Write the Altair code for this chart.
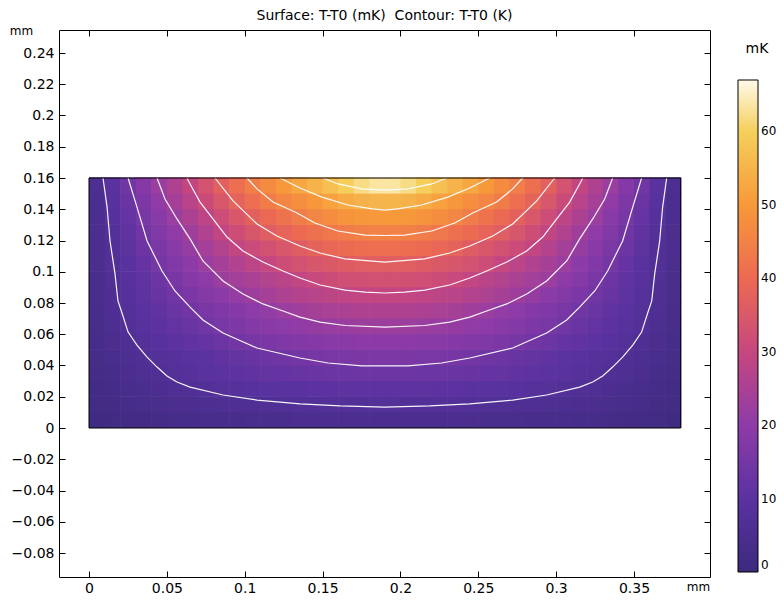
import altair as alt
import pandas as pd

TITLE = "Surface: T-T0 (mK)\u00a0 Contour: T-T0 (K)"

# cell centres of the surface grid (mm)
X_CELLS = [0.005, 0.015, 0.025, 0.035, 0.045, 0.055, 0.065, 0.075, 0.085, 0.095,
           0.105, 0.115, 0.125, 0.135, 0.145, 0.155, 0.165, 0.175, 0.185, 0.195,
           0.205, 0.215, 0.225, 0.235, 0.245, 0.255, 0.265, 0.275, 0.285, 0.295,
           0.305, 0.315, 0.325, 0.335, 0.345, 0.355, 0.365, 0.375]
Y_CELLS = [0.005, 0.015, 0.025, 0.035, 0.045, 0.055, 0.065, 0.075,
           0.085, 0.095, 0.105, 0.115, 0.125, 0.135, 0.145, 0.155]
CELL_HALF = 0.005
OVERLAP = 0.0004

# surface values T-T0 (mK), one row per Y_CELLS entry (bottom to top)
T_ROWS = [
    [1.3, 1.8, 2.2, 2.6, 2.95, 3.3, 3.6, 3.85, 4.1, 4.3, 4.5, 4.65, 4.8, 4.9, 5.0, 5.05, 5.1, 5.14, 5.16,
     5.16, 5.14, 5.1, 5.05, 5.0, 4.9, 4.8, 4.65, 4.5, 4.3, 4.1, 3.85, 3.6, 3.3, 2.95, 2.6, 2.2, 1.8, 1.3],
    [2.0, 2.7, 3.3, 3.9, 4.4, 4.9, 5.3, 5.7, 6.0, 6.35, 6.65, 6.9, 7.15, 7.35, 7.5, 7.65, 7.75, 7.83, 7.88,
     7.88, 7.83, 7.75, 7.65, 7.5, 7.35, 7.15, 6.9, 6.65, 6.35, 6.0, 5.7, 5.3, 4.9, 4.4, 3.9, 3.3, 2.7, 2.0],
    [2.3, 3.1, 3.9, 4.7, 5.5, 6.25, 7.05, 7.7, 8.2, 8.67, 9.08, 9.44, 9.76, 10.03, 10.26, 10.44, 10.58, 10.67, 10.71,
     10.71, 10.67, 10.58, 10.44, 10.26, 10.03, 9.76, 9.44, 9.08, 8.67, 8.2, 7.7, 7.05, 6.25, 5.5, 4.7, 3.9, 3.1, 2.3],
    [2.74, 3.83, 4.92, 6.0, 7.09, 8.0, 8.8, 9.53, 10.2, 10.8, 11.36, 11.84, 12.27, 12.63, 12.94, 13.18, 13.36, 13.48, 13.54,
     13.54, 13.48, 13.36, 13.18, 12.94, 12.63, 12.27, 11.84, 11.36, 10.8, 10.2, 9.53, 8.8, 8.0, 7.09, 6.0, 4.92, 3.83, 2.74],
    [3.15, 4.5, 5.8, 7.1, 8.0, 8.8, 9.5, 10.3, 11.07, 11.84, 12.6, 13.4, 14.1, 14.9, 15.4, 15.83, 16.14, 16.34, 16.45,
     16.45, 16.34, 16.14, 15.83, 15.4, 14.9, 14.1, 13.4, 12.6, 11.84, 11.07, 10.3, 9.5, 8.8, 8.0, 7.1, 5.8, 4.5, 3.15],
    [3.6, 5.2, 6.7, 8.0, 9.1, 10.2, 11.2, 12.3, 13.4, 14.4, 15.44, 16.33, 17.1, 17.77, 18.3, 18.77, 19.1, 19.33, 19.44,
     19.44, 19.33, 19.1, 18.77, 18.3, 17.77, 17.1, 16.33, 15.44, 14.4, 13.4, 12.3, 11.2, 10.2, 9.1, 8.0, 6.7, 5.2, 3.6],
    [4.0, 5.8, 7.6, 8.9, 10.25, 11.6, 12.9, 14.3, 15.6, 16.85, 17.96, 18.96, 19.83, 20.58, 21.2, 21.7, 22.07, 22.32, 22.44,
     22.44, 22.32, 22.07, 21.7, 21.2, 20.58, 19.83, 18.96, 17.96, 16.85, 15.6, 14.3, 12.9, 11.6, 10.25, 8.9, 7.6, 5.8, 4.0],
    [4.3, 6.3, 8.1, 9.7, 11.3, 12.9, 14.5, 15.8, 17.1, 18.3, 19.6, 20.8, 22.1, 23.2, 24.07, 24.8, 25.3, 25.67, 25.85,
     25.85, 25.67, 25.3, 24.8, 24.07, 23.2, 22.1, 20.8, 19.6, 18.3, 17.1, 15.8, 14.5, 12.9, 11.3, 9.7, 8.1, 6.3, 4.3],
    [4.6, 6.75, 8.7, 10.6, 12.5, 14.4, 16.1, 17.8, 19.5, 21.2, 22.86, 24.28, 25.5, 26.6, 27.5, 28.2, 28.7, 29.08, 29.26,
     29.26, 29.08, 28.7, 28.2, 27.5, 26.6, 25.5, 24.28, 22.86, 21.2, 19.5, 17.8, 16.1, 14.4, 12.5, 10.6, 8.7, 6.75, 4.6],
    [4.7, 7.0, 9.2, 11.4, 13.7, 15.9, 18.0, 20.2, 22.4, 23.75, 25.1, 26.5, 27.9, 29.3, 30.55, 31.5, 32.24, 32.7, 32.96,
     32.96, 32.7, 32.24, 31.5, 30.55, 29.3, 27.9, 26.5, 25.1, 23.75, 22.4, 20.2, 18.0, 15.9, 13.7, 11.4, 9.2, 7.0, 4.7],
    [4.9, 7.25, 9.8, 12.4, 15.0, 17.4, 19.9, 22.3, 24.2, 26.1, 28.0, 29.9, 31.6, 33.05, 34.3, 35.25, 35.99, 36.5, 36.7,
     36.7, 36.5, 35.99, 35.25, 34.3, 33.05, 31.6, 29.9, 28.0, 26.1, 24.2, 22.3, 19.9, 17.4, 15.0, 12.4, 9.8, 7.25, 4.9],
    [5.1, 7.6, 10.6, 13.5, 16.2, 18.8, 21.4, 24.0, 26.6, 29.3, 31.2, 32.9, 34.7, 36.4, 38.0, 39.2, 40.1, 40.65, 40.9,
     40.9, 40.65, 40.1, 39.2, 38.0, 36.4, 34.7, 32.9, 31.2, 29.3, 26.6, 24.0, 21.4, 18.8, 16.2, 13.5, 10.6, 7.6, 5.1],
    [5.2, 8.1, 11.4, 14.65, 17.5, 20.3, 23.2, 26.2, 29.3, 31.8, 34.3, 36.7, 38.3, 39.9, 41.4, 42.7, 43.8, 44.6, 45.2,
     45.2, 44.6, 43.8, 42.7, 41.4, 39.9, 38.3, 36.7, 34.3, 31.8, 29.3, 26.2, 23.2, 20.3, 17.5, 14.65, 11.4, 8.1, 5.2],
    [5.3, 8.5, 12.1, 15.6, 18.8, 22.1, 25.3, 28.6, 31.7, 34.7, 37.5, 39.7, 41.8, 43.9, 45.9, 47.5, 48.7, 49.5, 49.9,
     49.9, 49.5, 48.7, 47.5, 45.9, 43.9, 41.8, 39.7, 37.5, 34.7, 31.7, 28.6, 25.3, 22.1, 18.8, 15.6, 12.1, 8.5, 5.3],
    [5.4, 9.0, 13.0, 16.8, 20.6, 24.2, 27.6, 31.1, 34.5, 37.9, 40.8, 43.8, 46.0, 47.8, 49.6, 51.5, 53.3, 54.6, 55.2,
     55.2, 54.6, 53.3, 51.5, 49.6, 47.8, 46.0, 43.8, 40.8, 37.9, 34.5, 31.1, 27.6, 24.2, 20.6, 16.8, 13.0, 9.0, 5.4],
    [5.6, 9.8, 14.2, 18.2, 22.1, 25.8, 29.5, 33.4, 37.3, 40.8, 44.3, 47.1, 49.9, 52.6, 54.8, 57.0, 59.8, 62.0, 63.5,
     63.5, 62.0, 59.8, 57.0, 54.8, 52.6, 49.9, 47.1, 44.3, 40.8, 37.3, 33.4, 29.5, 25.8, 22.1, 18.2, 14.2, 9.8, 5.6],
]

# contour lines (mm)
C1_X = [0.0090, 0.0116, 0.0135, 0.0167, 0.0186, 0.0212, 0.0251, 0.0308, 0.0373, 0.0437, 0.0501, 0.0565, 0.0649,
        0.0861, 0.1079, 0.1355, 0.1612, 0.1900, 0.2188, 0.2445, 0.2721, 0.2939, 0.3151, 0.3235, 0.3299, 0.3363,
        0.3427, 0.3492, 0.3549, 0.3588, 0.3614, 0.3633, 0.3665, 0.3684, 0.3710]
C1_Y = [0.1600, 0.1414, 0.1197, 0.0986, 0.0813, 0.0736, 0.0614, 0.0531, 0.0454, 0.0390, 0.0333, 0.0294, 0.0262,
        0.0211, 0.0179, 0.0154, 0.0141, 0.0134, 0.0141, 0.0154, 0.0179, 0.0211, 0.0262, 0.0294, 0.0333, 0.0390,
        0.0454, 0.0531, 0.0614, 0.0736, 0.0813, 0.0986, 0.1197, 0.1414, 0.1600]
C2_X = [0.0251, 0.0308, 0.0373, 0.0469, 0.0552, 0.0649, 0.0732, 0.0861, 0.1079, 0.1355, 0.1535, 0.1753, 0.1900,
        0.2047, 0.2265, 0.2445, 0.2721, 0.2939, 0.3068, 0.3151, 0.3248, 0.3331, 0.3427, 0.3492, 0.3549]
C2_Y = [0.1600, 0.1414, 0.1197, 0.1005, 0.0877, 0.0774, 0.0691, 0.0608, 0.0512, 0.0448, 0.0416, 0.0397, 0.0397,
        0.0397, 0.0416, 0.0448, 0.0512, 0.0608, 0.0691, 0.0774, 0.0877, 0.1005, 0.1197, 0.1414, 0.1600]
C3_X = [0.0437, 0.0488, 0.0565, 0.0649, 0.0732, 0.0861, 0.0989, 0.1117, 0.1246, 0.1355, 0.1484, 0.1644, 0.1900,
        0.2156, 0.2316, 0.2445, 0.2554, 0.2683, 0.2811, 0.2939, 0.3068, 0.3151, 0.3235, 0.3312, 0.3363]
C3_Y = [0.1600, 0.1466, 0.1338, 0.1210, 0.1069, 0.0941, 0.0858, 0.0794, 0.0749, 0.0710, 0.0678, 0.0656, 0.0646,
        0.0656, 0.0678, 0.0710, 0.0749, 0.0794, 0.0858, 0.0941, 0.1069, 0.1210, 0.1338, 0.1466, 0.1600]
C4_X = [0.0629, 0.0649, 0.0713, 0.0796, 0.0886, 0.0989, 0.1117, 0.1246, 0.1355, 0.1484, 0.1644, 0.1773, 0.1900,
        0.2027, 0.2156, 0.2316, 0.2445, 0.2554, 0.2683, 0.2811, 0.2914, 0.3004, 0.3087, 0.3151, 0.3171]
C4_Y = [0.1600, 0.1562, 0.1446, 0.1338, 0.1222, 0.1133, 0.1062, 0.1005, 0.0960, 0.0915, 0.0883, 0.0870, 0.0864,
        0.0870, 0.0883, 0.0915, 0.0960, 0.1005, 0.1062, 0.1133, 0.1222, 0.1338, 0.1446, 0.1562, 0.1600]
C5_X = [0.0809, 0.0925, 0.1079, 0.1207, 0.1355, 0.1484, 0.1644, 0.1900,
        0.2156, 0.2316, 0.2445, 0.2593, 0.2721, 0.2875, 0.2991]
C5_Y = [0.1600, 0.1453, 0.1306, 0.1229, 0.1165, 0.1120, 0.1082, 0.1062,
        0.1082, 0.1120, 0.1165, 0.1229, 0.1306, 0.1453, 0.1600]
C6_X = [0.1015, 0.1079, 0.1182, 0.1336, 0.1451, 0.1599, 0.1773, 0.1900,
        0.2027, 0.2201, 0.2349, 0.2464, 0.2618, 0.2721, 0.2785]
C6_Y = [0.1600, 0.1530, 0.1446, 0.1376, 0.1312, 0.1261, 0.1235, 0.1232,
        0.1235, 0.1261, 0.1312, 0.1376, 0.1446, 0.1530, 0.1600]
C7_X = [0.1227, 0.1355, 0.1496, 0.1663, 0.1818, 0.1900, 0.1982, 0.2137, 0.2304, 0.2445, 0.2573]
C7_Y = [0.1600, 0.1536, 0.1478, 0.1427, 0.1402, 0.1395, 0.1402, 0.1427, 0.1478, 0.1536, 0.1600]
C8_X = [0.1503, 0.1599, 0.1753, 0.1900, 0.2047, 0.2201, 0.2297]
C8_Y = [0.1600, 0.1562, 0.1530, 0.1523, 0.1530, 0.1562, 0.1600]
CONTOURS = [(C1_X, C1_Y), (C2_X, C2_Y), (C3_X, C3_Y), (C4_X, C4_Y),
            (C5_X, C5_Y), (C6_X, C6_Y), (C7_X, C7_Y), (C8_X, C8_Y)]

# geometry outline (mm)
GEOM_X = [0.0, 0.38]
GEOM_Y = [0.0, 0.16]

X_TICKS = [0, 0.05, 0.1, 0.15, 0.2, 0.25, 0.3, 0.35]
Y_TICKS = [-0.08, -0.06, -0.04, -0.02, 0, 0.02, 0.04, 0.06, 0.08, 0.1, 0.12, 0.14, 0.16, 0.18, 0.2, 0.22, 0.24]
X_DOMAIN = [-0.01927, 0.39882]
Y_DOMAIN = [-0.09536, 0.25472]
CBAR_TICKS = [0, 10, 20, 30, 40, 50, 60]
CMAP_STOPS = [0, 10, 20, 30, 40, 50, 60, 67]
CMAP_COLORS = ["#3c2a7d", "#5a32a0", "#8e3ba8", "#c6477f", "#ec6a52", "#f7993a", "#f5cf5c", "#fffbea"]

W, H = 651, 547
FONT = "DejaVu Sans"

# ---- tables
cells = pd.DataFrame(
    [{"xc": xc, "yc": yc, "T": T_ROWS[j][i]} for j, yc in enumerate(Y_CELLS) for i, xc in enumerate(X_CELLS)]
)
cells["x0"] = cells["xc"] - CELL_HALF
cells["x1"] = cells["xc"] + CELL_HALF + OVERLAP
cells["y0"] = cells["yc"] - CELL_HALF
cells["y1"] = cells["yc"] + CELL_HALF + OVERLAP

lines = pd.DataFrame(
    [{"c": k, "i": i, "x": x, "y": y}
     for k, (xs_, ys_) in enumerate(CONTOURS) for i, (x, y) in enumerate(zip(xs_, ys_))]
)
geom = pd.DataFrame([{"x0": GEOM_X[0], "x1": GEOM_X[1], "y0": GEOM_Y[0], "y1": GEOM_Y[1]}])

xs = alt.Scale(domain=X_DOMAIN, nice=False, zero=False)
ys = alt.Scale(domain=Y_DOMAIN, nice=False, zero=False)
cs = alt.Scale(domain=CMAP_STOPS, range=CMAP_COLORS, interpolate="rgb")


def tick_axis(orient, offset):
    return alt.Axis(orient=orient, offset=offset, labels=False, domain=False, ticks=True,
                    tickSize=6, tickColor="black", tickWidth=1, grid=False, title=None,
                    values=X_TICKS if orient in ("top", "bottom") else Y_TICKS)


x_label_axis = alt.Axis(orient="bottom", values=X_TICKS, format="~g", ticks=False, domain=False,
                        grid=False, labelPadding=4, labelFontSize=14, labelColor="black",
                        title="mm", titleFontSize=12, titleFontWeight="normal", titleColor="black",
                        titleX=639, titleY=9, titleBaseline="middle", titleAlign="center")
y_label_axis = alt.Axis(orient="left", values=Y_TICKS, format="~g", ticks=False, domain=False,
                        grid=False, labelPadding=5, labelFontSize=14, labelColor="black",
                        title="mm", titleFontSize=12, titleFontWeight="normal", titleColor="black",
                        titleAngle=0, titleX=-38, titleY=0, titleBaseline="middle", titleAlign="center")

legend = alt.Legend(type="gradient", orient="none", legendX=679, legendY=12, direction="vertical",
                    gradientLength=492, gradientThickness=20, gradientStrokeColor="black",
                    gradientStrokeWidth=1, values=CBAR_TICKS, title="mK", titleFontSize=14,
                    titleFontWeight="normal", titleColor="black", titlePadding=24, titleAnchor="middle",
                    labelFontSize=12, labelColor="black", labelOffset=3, labelBaseline="middle",
                    labelOverlap=False)

heat = alt.Chart(cells).mark_rect(strokeWidth=0).encode(
    x=alt.X("x0:Q", scale=xs, axis=x_label_axis),
    x2="x1:Q",
    y=alt.Y("y0:Q", scale=ys, axis=y_label_axis),
    y2="y1:Q",
    color=alt.Color("T:Q", scale=cs, legend=legend),
)

contours = alt.Chart(lines).mark_line(color="white", strokeWidth=1.2, opacity=0.95).encode(
    x=alt.X("x:Q", scale=xs, axis=tick_axis("top", -H)),
    y=alt.Y("y:Q", scale=ys, axis=tick_axis("right", -W)),
    detail="c:N",
    order=alt.Order("i:Q"),
)

frame = alt.Chart(geom).mark_rect(filled=False, stroke="black", strokeWidth=1, fill=None).encode(
    x=alt.X("x0:Q", scale=xs, axis=tick_axis("bottom", -H)),
    x2="x1:Q",
    y=alt.Y("y0:Q", scale=ys, axis=tick_axis("left", -W)),
    y2="y1:Q",
)

chart = alt.layer(heat, contours, frame).resolve_axis(x="independent", y="independent").properties(
    width=W, height=H,
    title=alt.TitleParams(TITLE, anchor="middle", fontSize=14, fontWeight="normal", color="black", offset=1),
    autosize=alt.AutoSizeParams(type="none"),
    padding={"left": 51, "top": 22, "right": 66, "bottom": 17},
).configure(font=FONT).configure_view(stroke="black", strokeWidth=1)

chart.save("out.html", embed_options={"renderer": "svg", "actions": False})
